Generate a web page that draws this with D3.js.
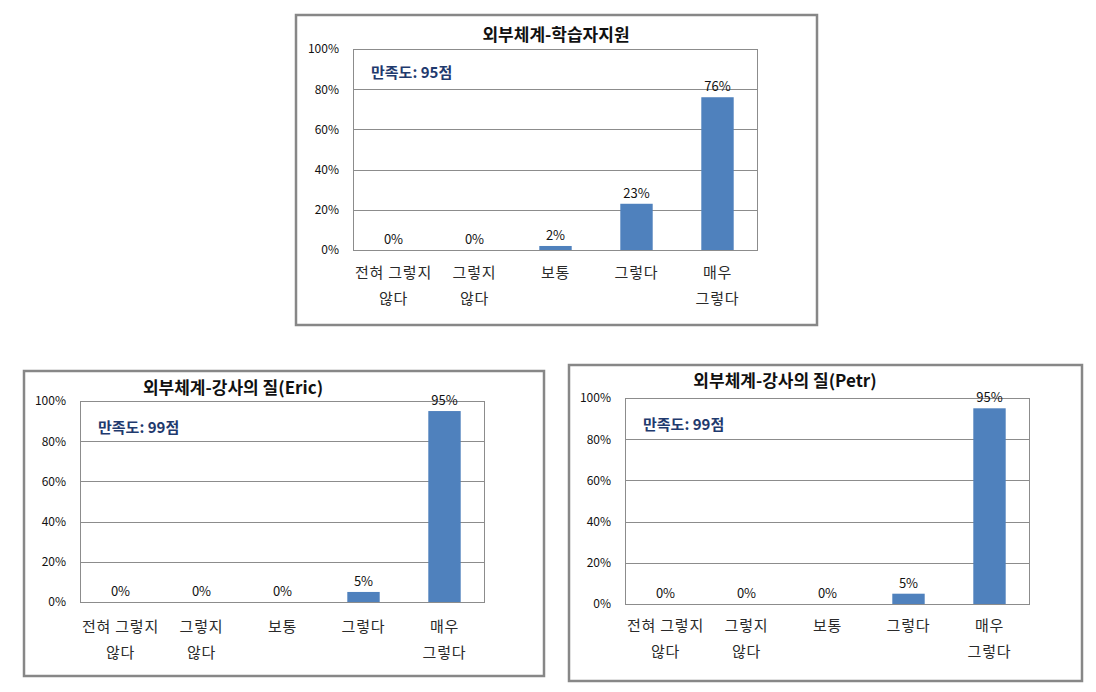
<!DOCTYPE html>
<html>
<head>
<meta charset="utf-8">
<script src="https://cdn.jsdelivr.net/npm/d3@7"></script>
<style>
  html, body { margin: 0; padding: 0; background: #fff; }
  svg { display: block; }
</style>
</head>
<body>
<div id="chart"></div>
<script>
// categories (two-line labels)
const categories = ['전혀 그렇지 않다', '그렇지 않다', '보통', '그렇다', '매우 그렇다'];
const categoryLines = [['전혀 그렇지', '않다'], ['그렇지', '않다'], ['보통'], ['그렇다'], ['매우', '그렇다']];
const yTicks = [0, 20, 40, 60, 80, 100];

const titleLearner = '외부체계-학습자지원';
const titleEric = '외부체계-강사의 질(Eric)';
const titlePetr = '외부체계-강사의 질(Petr)';

const valuesLearner = [0, 0, 2, 23, 76];
const valuesEric = [0, 0, 0, 5, 95];
const valuesPetr = [0, 0, 0, 5, 95];

const scoreLearner = '만족도: 95점';
const scoreEric = '만족도: 99점';
const scorePetr = '만족도: 99점';

(function () {
  'use strict';
  const W = 1096, H = 692;
  const FONT = "'Noto Sans CJK KR', 'Noto Sans', sans-serif";
  const BAR = '#4f81bd', GRID = '#8c8c8c', FRAME = '#878787';

  const svg = d3.select('#chart').append('svg').attr('width', W).attr('height', H);

  function drawChart(o) {
    // outer frame
    svg.append('rect').attr('x', o.frame.x).attr('y', o.frame.y)
      .attr('width', o.frame.w).attr('height', o.frame.h)
      .attr('fill', '#fff').attr('stroke', FRAME).attr('stroke-width', 2.5);

    const g = svg.append('g').attr('transform', `translate(${o.plot.x},${o.plot.y})`);
    const x = d3.scaleBand().domain(categories).range([0, o.plot.w]).paddingInner(0.6).paddingOuter(0.3);
    const y = d3.scaleLinear().domain([0, 100]).range([o.plot.h, 0]);

    // gridlines
    g.selectAll('.grid').data(yTicks).enter().append('line')
      .attr('x1', 0).attr('x2', o.plot.w)
      .attr('y1', d => Math.round(y(d)) + 0.5).attr('y2', d => Math.round(y(d)) + 0.5)
      .attr('stroke', GRID).attr('stroke-width', 1);
    // plot border
    g.append('rect').attr('x', 0.5).attr('y', Math.round(y(100)) + 0.5)
      .attr('width', o.plot.w - 1).attr('height', Math.round(y(0)) - Math.round(y(100)))
      .attr('fill', 'none').attr('stroke', GRID).attr('stroke-width', 1);

    // y axis labels
    const ya = g.append('g').call(d3.axisLeft(y).tickValues(yTicks).tickSize(0).tickPadding(14).tickFormat(d => d + '%'));
    ya.select('.domain').remove();
    ya.selectAll('text').style('font-family', FONT).style('font-size', '12px').style('fill', '#111');

    // bars
    g.selectAll('.bar').data(o.values).enter().append('rect')
      .attr('x', (d, i) => x(categories[i])).attr('width', x.bandwidth())
      .attr('y', d => y(d)).attr('height', d => y(0) - y(d))
      .attr('fill', BAR);

    // value labels
    g.selectAll('.val').data(o.values).enter().append('text')
      .attr('x', (d, i) => x(categories[i]) + x.bandwidth() / 2)
      .attr('y', d => y(d) - 6)
      .attr('text-anchor', 'middle')
      .style('font-family', FONT).style('font-size', '13px').style('fill', '#111')
      .text(d => d + '%');

    // category labels
    categoryLines.forEach((lines, i) => {
      const cx = x(categories[i]) + x.bandwidth() / 2;
      lines.forEach((ln, j) => {
        g.append('text').attr('x', cx).attr('y', o.plot.h + o.catDy + j * 26)
          .attr('text-anchor', 'middle')
          .style('font-family', FONT).style('font-size', '15px').style('letter-spacing', '0.8px').style('fill', '#2a2a2a')
          .text(ln);
      });
    });

    // title
    svg.append('text').attr('x', o.titleX).attr('y', o.titleY)
      .attr('text-anchor', 'middle')
      .style('font-family', FONT).style('font-size', '17px').style('font-weight', 'bold').style('fill', '#111')
      .text(o.title);

    // satisfaction score
    svg.append('text').attr('x', o.scoreX).attr('y', o.scoreY)
      .style('font-family', FONT).style('font-size', '15px').style('font-weight', 'bold').style('fill', '#1f3a6e')
      .text(o.score);
  }

  drawChart({
    frame: { x: 296, y: 15, w: 521, h: 310 },
    plot: { x: 353, y: 49, w: 405, h: 201 },
    values: valuesLearner, title: titleLearner, score: scoreLearner,
    titleX: 556, titleY: 41, scoreX: 371, scoreY: 78, catDy: 28
  });
  drawChart({
    frame: { x: 24, y: 371, w: 520, h: 305 },
    plot: { x: 80, y: 401, w: 405, h: 201 },
    values: valuesEric, title: titleEric, score: scoreEric,
    titleX: 233, titleY: 394, scoreX: 98, scoreY: 433, catDy: 30
  });
  drawChart({
    frame: { x: 569, y: 365, w: 513, h: 316 },
    plot: { x: 625, y: 398, w: 405, h: 206 },
    values: valuesPetr, title: titlePetr, score: scorePetr,
    titleX: 785, titleY: 387, scoreX: 643, scoreY: 430, catDy: 27
  });
})();
</script>
</body>
</html>
